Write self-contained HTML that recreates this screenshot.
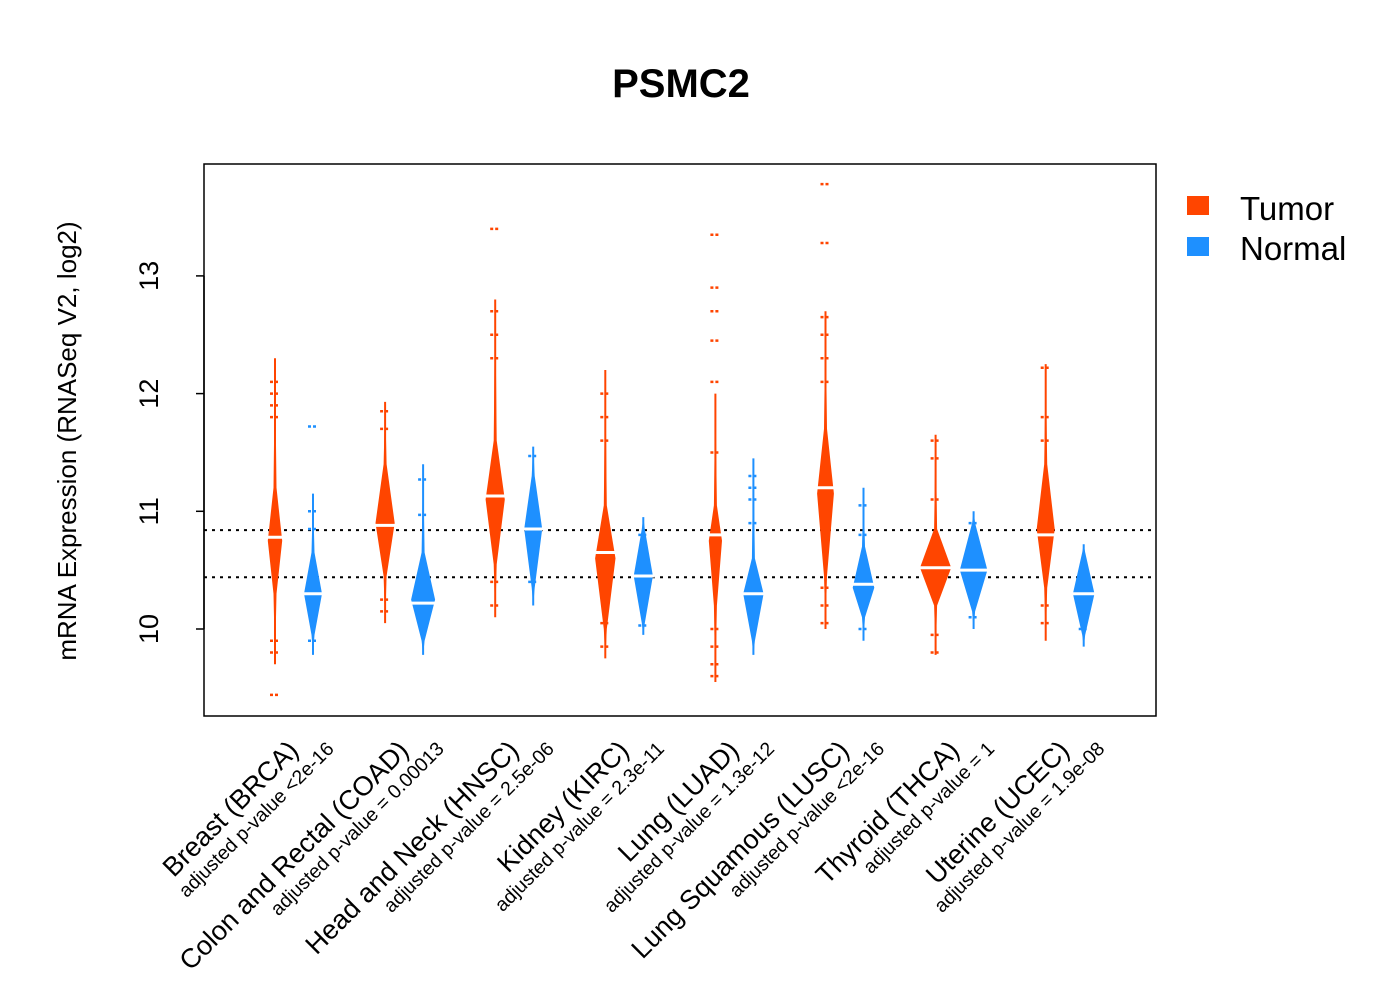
<!DOCTYPE html>
<html><head><meta charset="utf-8"><style>
body{margin:0;background:#fff}
svg{display:block;font-family:"Liberation Sans",Arial,sans-serif}
</style></head><body>
<svg id="chart" width="1400" height="1000" viewBox="0 0 1400 1000">
<text x="681" y="97" text-anchor="middle" font-size="40" font-weight="bold">PSMC2</text>
<g id="beans"></g>
<rect x="204" y="164" width="952" height="552" fill="none" stroke="#000" stroke-width="1.5"/>
<g id="yaxis"></g>
<text transform="translate(76,441) rotate(-90)" text-anchor="middle" font-size="26">mRNA Expression (RNASeq V2, log2)</text>
<g id="xlabels"></g>
<g>
<rect x="1187" y="196" width="22" height="19" fill="#FF4500"/>
<text x="1240" y="220" font-size="33">Tumor</text>
<rect x="1187" y="237" width="22" height="19" fill="#1E90FF"/>
<text x="1240" y="260" font-size="33">Normal</text>
</g>
</svg>
<script>
const categories=["Breast (BRCA)","Colon and Rectal (COAD)","Head and Neck (HNSC)","Kidney (KIRC)","Lung (LUAD)","Lung Squamous (LUSC)","Thyroid (THCA)","Uterine (UCEC)"];
const pvalues=["adjusted p-value <2e-16","adjusted p-value = 0.00013","adjusted p-value = 2.5e-06","adjusted p-value = 2.3e-11","adjusted p-value = 1.3e-12","adjusted p-value <2e-16","adjusted p-value = 1","adjusted p-value = 1.9e-08"];
const yTicks=[10,11,12,13];
const refLines=[10.84,10.44];
// tumor beans
const tumorMin=[9.7,10.05,10.1,9.75,9.55,10.0,9.78,9.9];
const tumorBodyLo=[10.3,10.45,10.55,10.0,10.2,10.45,10.2,10.35];
const tumorPeak=[10.75,10.9,11.1,10.6,10.75,11.15,10.52,10.85];
const tumorBodyHi=[11.2,11.4,11.6,11.05,11.05,11.7,10.85,11.4];
const tumorMax=[12.3,11.93,12.8,12.2,12.0,12.7,11.65,12.25];
const tumorWidth=[0.6,0.8,0.8,0.85,0.55,0.7,1.3,0.75];
const tumorMedian=[10.78,10.88,11.13,10.65,10.8,11.2,10.52,10.8];
const tumorOutliers=[[9.44,9.8,9.9,11.8,11.9,12.0,12.1],[10.15,10.25,11.7,11.85],[10.2,10.4,12.3,12.5,12.7,13.4],[9.85,10.05,11.6,11.8,12.0],[9.6,9.7,9.85,10.0,11.5,12.1,12.45,12.7,12.9,13.35],[10.05,10.2,10.35,12.1,12.3,12.5,12.65,13.28,13.78],[9.8,9.95,11.1,11.45,11.6],[10.05,10.2,11.6,11.8,12.22]];
// normal beans
const normalMin=[9.78,9.78,10.2,9.95,9.78,9.9,10.0,9.85];
const normalBodyLo=[9.95,9.9,10.35,10.05,9.9,10.1,10.15,9.95];
const normalPeak=[10.3,10.25,10.85,10.45,10.3,10.35,10.5,10.3];
const normalBodyHi=[10.65,10.65,11.3,10.85,10.6,10.7,10.9,10.65];
const normalMax=[11.15,11.4,11.55,10.95,11.45,11.2,11.0,10.72];
const normalWidth=[0.75,1.0,0.75,0.8,0.85,0.9,1.15,0.9];
const normalMedian=[10.3,10.22,10.85,10.45,10.3,10.38,10.5,10.3];
const normalOutliers=[[9.9,10.85,11.0,11.72],[11.27,10.97],[10.4,11.47],[10.03,10.8],[10.9,11.1,11.2,11.3],[10.0,10.8,11.05],[10.1,10.9],[10.0]];

const NS="http://www.w3.org/2000/svg";
const y=v=>629-(v-10)*117.7;
const xT=i=>275+i*110.1, xN=i=>313+i*110.1;
const W=12;
function mk(tag,attrs,parent){const e=document.createElementNS(NS,tag);for(const k in attrs)e.setAttribute(k,attrs[k]);parent.appendChild(e);return e;}
const beans=document.getElementById('beans');
refLines.forEach((v,i)=>{
  const l=mk('line',{x1:204,x2:1156,y1:y(v),y2:y(v),stroke:'#000','stroke-width':2,'stroke-dasharray':'3,5'},beans);
  
  
});
function bean(cx,mn,lo,pk,hi,mx,w,med,outs,color,name){
  const g=mk('g',{},beans);
  
  
  mk('line',{x1:cx,x2:cx,y1:y(mx),y2:y(mn),stroke:color,'stroke-width':2},g);
  const hw=w*W;
  const pts=[[cx,y(mn)],[cx+1.5,y(lo)],[cx+hw,y(pk)],[cx+1.5,y(hi)],[cx,y(mx)],[cx-1.5,y(hi)],[cx-hw,y(pk)],[cx-1.5,y(lo)]];
  const p=mk('path',{d:'M'+pts.map(q=>q.join(',')).join('L')+'Z',fill:color},g);
  
  
  const m=mk('line',{x1:cx-hw-2,x2:cx+hw+2,y1:y(med),y2:y(med),stroke:'#fff','stroke-width':3},g);
  
  
  outs.forEach(v=>{
    const o=mk('line',{x1:cx-5,x2:cx+5,y1:y(v),y2:y(v),stroke:color,'stroke-width':2.5,'stroke-dasharray':'3,2'},g);
    
    
  });
}
categories.forEach((c,i)=>{
  bean(xT(i),tumorMin[i],tumorBodyLo[i],tumorPeak[i],tumorBodyHi[i],tumorMax[i],tumorWidth[i],tumorMedian[i],tumorOutliers[i],'#FF4500','tumor-bean-'+i);
  bean(xN(i),normalMin[i],normalBodyLo[i],normalPeak[i],normalBodyHi[i],normalMax[i],normalWidth[i],normalMedian[i],normalOutliers[i],'#1E90FF','normal-bean-'+i);
});
const ya=document.getElementById('yaxis');
mk('line',{x1:204,x2:204,y1:y(yTicks[0]),y2:y(yTicks[yTicks.length-1]),stroke:'#000','stroke-width':1.5},ya);
yTicks.forEach(v=>{
  const t=mk('line',{x1:196,x2:204,y1:y(v),y2:y(v),stroke:'#000','stroke-width':1.5},ya);
  
  
  const tx=mk('text',{transform:`translate(158,${y(v)}) rotate(-90)`,'text-anchor':'middle','font-size':27},ya);
  tx.textContent=v;
  
  
});
const xl=document.getElementById('xlabels');
categories.forEach((c,i)=>{
  const cx=(xT(i)+xN(i))/2;
  const t=mk('text',{transform:`translate(${cx+6},${752}) rotate(-45)`,'text-anchor':'end','font-size':27},xl);
  t.textContent=c;
  
  
  const p=mk('text',{transform:`translate(${cx+41},${750}) rotate(-45)`,'text-anchor':'end','font-size':19.5},xl);
  p.textContent=pvalues[i];
  
  
});
</script>
</body></html>
